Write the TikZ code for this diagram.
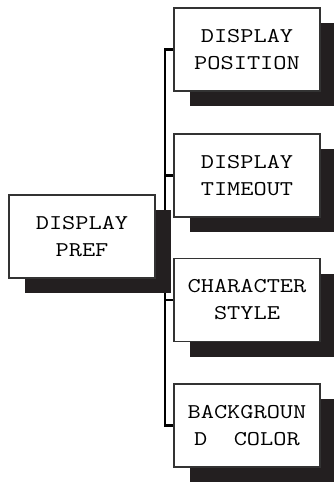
\documentclass[tikz,border=0pt]{standalone}
\usepackage{fontspec}
\newfontfamily\boxfont[FakeStretch=1.22]{Latin Modern Mono}
\usetikzlibrary{shadows,backgrounds}
\definecolor{shadowc}{HTML}{231F20}
\begin{document}
\begin{tikzpicture}[x=1pt,y=-1pt,
  menubox/.style={draw=black!80, line width=1.5pt, fill=white,
    minimum width=146pt, minimum height=83pt, align=center, inner sep=0pt,
    font=\boxfont\fontsize{21}{27}\selectfont,
    drop shadow={shadow xshift=16pt, shadow yshift=-15pt, opacity=1, fill=shadowc}},
  conn/.style={line width=2.5pt, draw=black}]
\useasboundingbox (0,0) rectangle (333,483);
\node[menubox] (main) at (82,236.5) {DISPLAY\\PREF};
\node[menubox] (b1) at (247,49.5) {DISPLAY\\POSITION};
\node[menubox] (b2) at (247,175.5) {DISPLAY\\TIMEOUT};
\node[menubox] (b3) at (247,300) {CHARACTER\\STYLE};
\node[menubox] (b4) at (247,425.5) {BACKGROUN\\D\ \ COLOR};
\coordinate (trunk) at (165,0);
\begin{scope}[on background layer]
  \draw[conn] (b1.west) -| (b4.west -| trunk) -- (b4.west);
  \draw[conn] (b2.west) -- (b2.west -| trunk);
  \draw[conn] (b3.west) -- (b3.west -| trunk);
  \draw[conn] (main.east) -- (main.east -| trunk);
\end{scope}
\end{tikzpicture}
\end{document}
